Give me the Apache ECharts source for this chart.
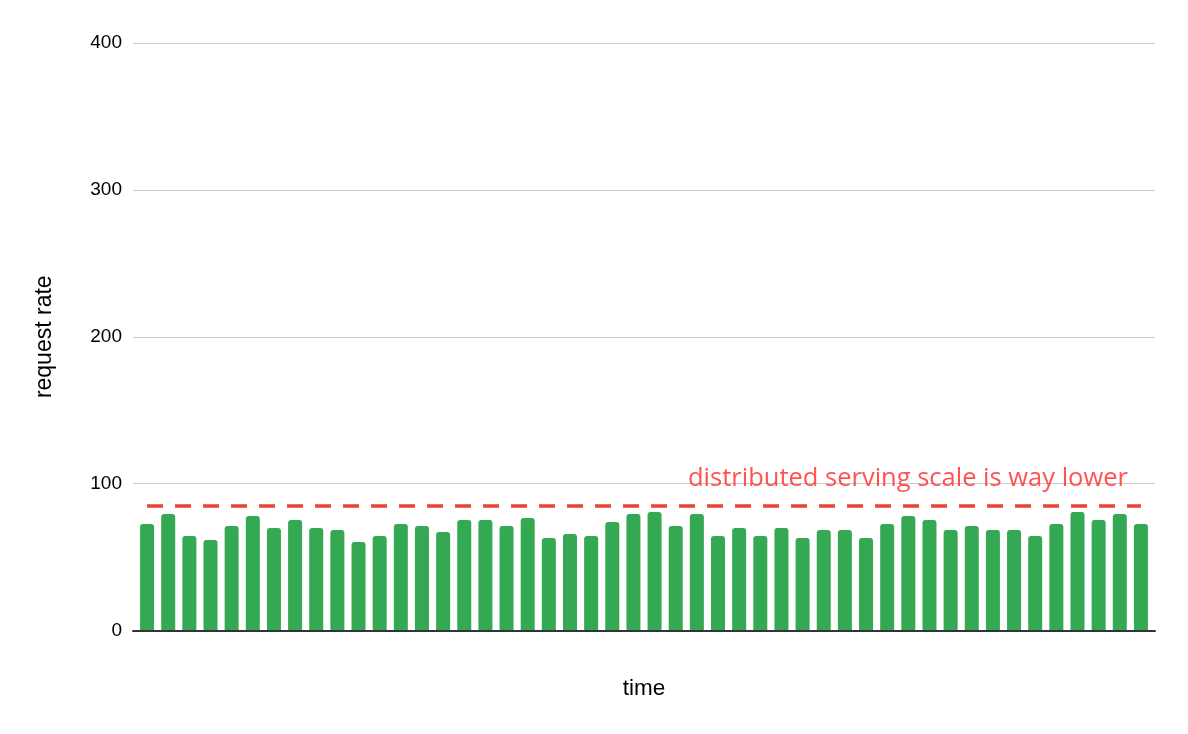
<!DOCTYPE html>
<html>
<head>
<meta charset="utf-8">
<script src="https://cdn.jsdelivr.net/npm/echarts@6/dist/echarts.min.js"></script>
<style>
html,body{margin:0;padding:0;background:#fff;}
#chart{width:1188px;height:734px;}
</style>
</head>
<body>
<div id="chart"></div>
<script>
const categories = Array.from({length: 48}, (_, i) => String(i + 1));
const requestRate = [
  72.5, 79.3, 64.3, 61.6, 71.1, 77.9, 69.8, 75.2, 69.8, 68.4, 60.2, 64.3,
  72.5, 71.1, 67.0, 75.2, 75.2, 71.1, 76.6, 63.0, 65.7, 64.3, 73.9, 79.3,
  80.7, 71.1, 79.3, 64.3, 69.8, 64.3, 69.8, 63.0, 68.4, 68.4, 63.0, 72.5,
  77.9, 75.2, 68.4, 71.1, 68.4, 68.4, 64.3, 72.5, 80.7, 75.2, 79.3, 72.5
];
const threshold = 85;
const thresholdLabel = 'distributed serving scale is way lower';
const yTicks = [0, 100, 200, 300, 400];

const chart = echarts.init(document.getElementById('chart'));
chart.setOption({
  animation: false,
  grid: [
    {left: 133, right: 33, top: 43, bottom: 103.5},
    {left: 136.5, right: 36.5, top: 43, bottom: 103.5}
  ],
  xAxis: [{
    gridIndex: 0,
    type: 'value',
    min: 0, max: 1,
    z: 5,
    name: 'time',
    nameLocation: 'middle',
    nameGap: 47,
    nameTextStyle: {fontFamily: 'Liberation Sans', fontSize: 22.5, color: '#000'},
    axisLine: {show: true, onZero: false, lineStyle: {color: '#333', width: 2}},
    axisTick: {show: false},
    axisLabel: {show: false},
    splitLine: {show: false}
  }, {
    gridIndex: 1,
    type: 'category',
    data: categories,
    axisLine: {show: false},
    axisTick: {show: false},
    axisLabel: {show: false}
  }],
  yAxis: [{
    gridIndex: 0,
    type: 'value',
    min: yTicks[0],
    max: yTicks[yTicks.length - 1],
    interval: 100,
    name: 'request rate',
    nameLocation: 'middle',
    nameGap: 77,
    nameRotate: 90,
    nameTextStyle: {fontFamily: 'Liberation Sans', fontSize: 23, color: '#000'},
    axisLine: {show: false},
    axisTick: {show: false},
    axisLabel: {fontFamily: 'Liberation Sans', fontSize: 19, color: '#000', margin: 11},
    splitLine: {lineStyle: {color: '#cccccc', width: 1}}
  }, {
    gridIndex: 1,
    type: 'value',
    min: yTicks[0],
    max: yTicks[yTicks.length - 1],
    interval: 100,
    axisLine: {show: false},
    axisTick: {show: false},
    axisLabel: {show: false},
    splitLine: {show: false}
  }],
  series: [{
    type: 'bar',
    xAxisIndex: 1,
    yAxisIndex: 1,
    data: requestRate,
    barWidth: 14,
    itemStyle: {color: '#34a853', borderRadius: [3, 3, 0, 0]},
    markLine: {
      silent: true,
      symbol: 'none',
      lineStyle: {color: '#ea4335', type: [16, 12], width: 3.5},
      label: {
        show: true,
        position: 'insideEndTop',
        formatter: thresholdLabel,
        fontFamily: 'Open Sans',
        fontSize: 25.5,
        color: 'rgba(255, 40, 40, 0.8)',
        distance: [13, 14]
      },
      data: [[
        {coord: [categories[0], threshold]},
        {coord: [categories[categories.length - 1], threshold]}
      ]]
    }
  }]
});
</script>
</body>
</html>
